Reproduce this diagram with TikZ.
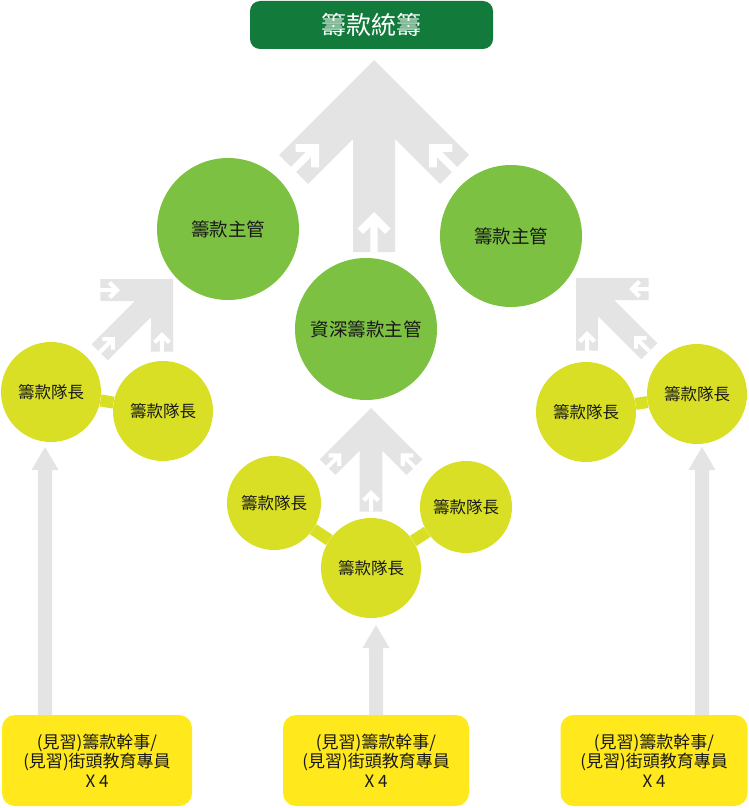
\documentclass[tikz,border=0pt]{standalone}
\usepackage{fontspec}
\newfontfamily\cjk{Noto Sans CJK TC}
\usetikzlibrary{calc}
\definecolor{topgreen}{RGB}{18,122,58}
\definecolor{circgreen}{RGB}{124,193,66}
\definecolor{ygreen}{RGB}{216,223,36}
\definecolor{boxyellow}{RGB}{255,232,28}
\definecolor{arrowgray}{RGB}{228,228,228}
\definecolor{txtdark}{RGB}{25,25,25}
\newcommand{\whitearrow}{\fill[white] (0,0) -- (16.5,-16.5) -- (11,-22) -- (3.7,-14.7) -- (3.7,-40) -- (-3.7,-40) -- (-3.7,-14.7) -- (-11,-22) -- (-16.5,-16.5) -- cycle;}
\newcommand{\mergearrow}[4]{%
  \begin{scope}[shift={(#1,-#2)},rotate=#3,scale=#4]
    \fill[arrowgray] (0,0) -- (95,-95) -- (66,-124) -- (21,-79) -- (21,-192) -- (-21,-192) -- (-21,-79) -- (-66,-124) -- (-95,-95) -- cycle;
    \begin{scope}[shift={(0,-152)}]\whitearrow\end{scope}
    \begin{scope}[shift={(-55,-84)},rotate=-45]\whitearrow\end{scope}
    \begin{scope}[shift={(55,-84)},rotate=45]\whitearrow\end{scope}
  \end{scope}}
\newcommand{\feedarrow}[2]{% #1 tip coordinate name, #2 box name
  \fill[arrowgray] (#1) -- ++(13.5,-23) -- ++(-6.5,0) -- ($(#1 |- #2.north)+(7,0)$) -- ($(#1 |- #2.north)+(-7,0)$) -- ($(#1)+(-7,-23)$) -- ++(-6.5,0) -- cycle;}
\begin{document}
\begin{tikzpicture}[x=1pt,y=1pt,
  topbox/.style={fill=topgreen, rounded corners=10pt, minimum width=243pt, minimum height=48pt, inner sep=0pt, text=white, font=\cjk\fontsize{25}{29}\selectfont},
  bigc/.style={circle, fill=circgreen, inner sep=0pt, minimum size=142pt, text=txtdark, font=\cjk\fontsize{18.5}{22}\selectfont},
  yc/.style={circle, fill=ygreen, inner sep=0pt, minimum size=100pt, text=txtdark, font=\cjk\fontsize{16.5}{20}\selectfont},
  ybox/.style={fill=boxyellow, rounded corners=13pt, minimum height=91pt, inner sep=0pt, align=center, text=txtdark, font=\cjk\fontsize{17}{19.5}\selectfont},
  link/.style={draw=ygreen, line width=12pt}]
\useasboundingbox (0,0) rectangle (749,-808);

% merge arrows
\mergearrow{374}{60}{0}{1}
\mergearrow{371}{408}{0}{0.54}
\mergearrow{173}{279}{-45}{0.54}
\mergearrow{576}{278}{45}{0.54}

% bottom boxes
\node[ybox, minimum width=190pt] (b1) at (97,-760.5) {(見習)籌款幹事/\\(見習)街頭教育專員\\X 4};
\node[ybox, minimum width=186pt] (b2) at (376,-760.5) {(見習)籌款幹事/\\(見習)街頭教育專員\\X 4};
\node[ybox, minimum width=187pt] (b3) at (654,-760.5) {(見習)籌款幹事/\\(見習)街頭教育專員\\X 4};

% feed arrows
\coordinate (ta) at (45,-447);
\coordinate (tb) at (376,-625);
\coordinate (tc) at (702,-447);
\feedarrow{ta}{b1}
\feedarrow{tb}{b2}
\feedarrow{tc}{b3}

% top box
\node[topbox] (top) at (371.5,-25) {籌款統籌};

% green circles
\node[bigc] (m1) at (228,-229) {籌款主管};
\node[bigc] (m2) at (511,-236) {籌款主管};
\node[bigc] (sm) at (366,-329) {資深籌款主管};

% team leader circles
\node[yc] (l1) at (51,-392) {籌款隊長};
\node[yc] (l2) at (163,-411) {籌款隊長};
\node[yc] (r1) at (586,-412) {籌款隊長};
\node[yc] (r2) at (697,-394) {籌款隊長};
\node[yc, minimum size=94pt] (c1) at (274,-503) {籌款隊長};
\node[yc, minimum size=92pt] (c2) at (466,-507) {籌款隊長};
\node[yc] (c3) at (371,-568) {籌款隊長};

% links
\draw[link] (l1) -- (l2);
\draw[link] (r1) -- (r2);
\draw[link] (c1) -- (c3);
\draw[link] (c3) -- (c2);
\end{tikzpicture}
\end{document}
